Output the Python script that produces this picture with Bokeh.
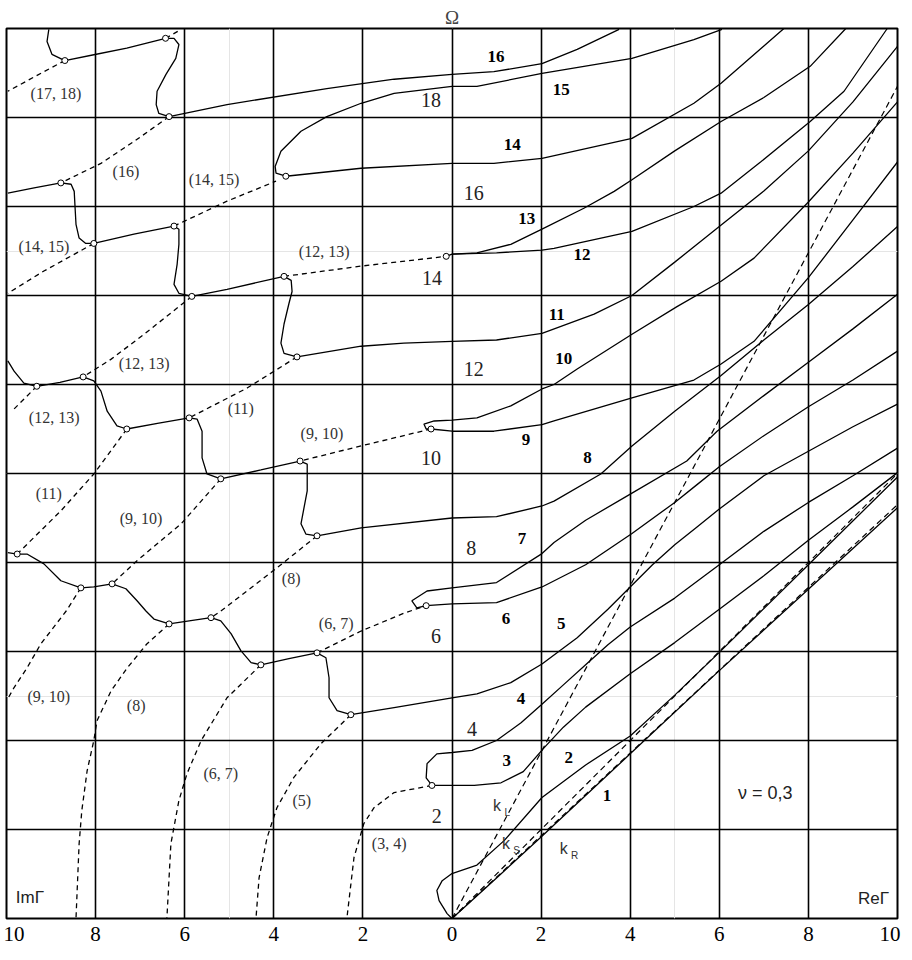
from bokeh.plotting import figure
from bokeh.models import Range1d, Grid, FixedTicker, LinearAxis
from bokeh.core.properties import value
from bokeh.embed import file_html
from bokeh.resources import INLINE

# ---------------- axis / grid data ----------------
grid_x = [-10, -8, -6, -4, -2, 0, 2, 4, 6, 8, 10]
grid_y = [0, 2, 4, 6, 8, 10, 12, 14, 16, 18, 20]
tick_labels = ["10", "8", "6", "4", "2", "0", "2", "4", "6", "8", "10"]

# ---------------- reference lines (dashed, from origin) ----------------
k_L = [(0, 0), (10, 18.7)]
k_S = [(0, 0), (10, 10.0)]
k_R = [(0, 0), (10, 9.3)]

# ---------------- real branches (right half) ----------------
branch_1 = [(0, 0), (1, 0.91), (2, 1.83), (4, 3.70), (6, 5.57), (8, 7.40), (10, 9.23)]
branch_2 = [(0, 0), (-0.11, 0.11), (-0.29, 0.40), (-0.34, 0.63), (-0.22, 0.85), (0, 1.01),
            (0.56, 1.2), (1.17, 1.75), (2.02, 2.72), (3.0, 3.45), (4.0, 4.1), (5, 5.02),
            (6, 5.98), (8, 7.95), (10, 9.92)]
branch_3_4 = [(10, 10.57), (9, 9.95), (8, 9.35), (7, 8.7), (6, 7.95), (5, 7.2), (4, 6.55),
              (3.5, 6.15), (3, 5.7), (2.5, 5.25), (2, 4.8), (1.55, 4.4), (1, 4.0), (0.45, 3.78),
              (0, 3.73), (-0.34, 3.70), (-0.56, 3.48), (-0.58, 3.16), (-0.45, 2.99), (0, 2.99),
              (0.5, 2.99), (1.1, 3.05), (1.6, 3.3), (2.07, 3.84), (2.5, 4.3), (3, 4.75),
              (4, 5.5), (5, 6.2), (6, 6.95), (7, 7.7), (8, 8.5), (9, 9.25), (10, 10.02)]
branch_6_7 = [(10, 14.03), (9, 13.25), (8, 12.5), (7, 11.75), (5.95, 10.95), (5.27, 10.28),
              (4.04, 9.56), (3, 8.95), (2.29, 8.45), (2.02, 8.2), (1, 7.55), (0, 7.43),
              (-0.56, 7.36), (-0.90, 7.14), (-0.79, 6.98), (-0.58, 7.03), (0, 7.07), (1, 7.1),
              (2.02, 7.45), (3, 7.95), (4.04, 8.65), (5, 9.35), (5.5, 9.75), (6, 10.15),
              (7, 10.85), (8, 11.5), (9, 12.1), (10, 12.75)]
branch_9_10 = [(10, 18.35), (9, 17.2), (8, 16.1), (6.78, 14.84), (6.04, 14.32), (5.05, 13.75),
               (4.04, 13.13), (2.81, 12.35), (2.29, 12.0), (2.02, 11.9), (1.32, 11.52),
               (0.56, 11.25), (0, 11.20), (-0.40, 11.18), (-0.63, 11.11), (-0.58, 11.0),
               (-0.47, 11.0), (0, 10.95), (0.94, 10.95), (2.02, 11.1), (2.29, 11.18),
               (4.04, 11.7), (5.43, 12.1), (6.04, 12.46), (6.78, 12.97), (8, 14.4), (9, 15.7),
               (10, 17.0)]
branch_12 = [(-0.13, 14.88), (0, 14.93), (1, 14.96), (2.02, 15.02), (2.29, 15.06), (4.04, 15.44),
             (5.43, 16.0), (6.04, 16.3), (6.94, 17.01), (8.04, 17.91), (8.8, 18.59), (9.77, 20)]
branch_13 = [(0, 14.93), (0.56, 14.96), (1.32, 15.15), (2.02, 15.49), (2.96, 15.96),
             (3.64, 16.34), (4.04, 16.6), (5, 17.25), (6.04, 17.91), (7, 18.45), (8.04, 19.15),
             (8.84, 20)]

# ---------------- complex branches (left half, solid) continuing to the right ----------------
chain_16 = [(-9.05, 19.98), (-9.09, 19.71), (-8.98, 19.42), (-8.69, 19.28), (-8.04, 19.41),
            (-7.30, 19.56), (-6.43, 19.78), (-6.24, 19.78), (-6.13, 19.64), (-6.20, 19.33),
            (-6.42, 18.97), (-6.62, 18.59), (-6.64, 18.29), (-6.58, 18.09), (-6.35, 18.02),
            (-5.05, 18.29), (-2.81, 18.65), (-1.30, 18.86), (0, 18.97), (0.94, 19.03),
            (2.02, 19.21), (2.81, 19.53), (3.75, 19.98)]
chain_14_15 = [(6.06, 19.98), (5.43, 19.75), (4.04, 19.33), (2.02, 18.99), (0.56, 18.70),
               (0, 18.70), (-1.30, 18.54), (-2.04, 18.32), (-2.81, 18.02), (-3.39, 17.69),
               (-3.84, 17.24), (-3.97, 16.90), (-3.95, 16.75), (-3.73, 16.68), (-2.04, 16.86),
               (0, 16.97), (0.94, 16.97), (2.02, 17.08), (4.04, 17.53), (5.43, 18.32),
               (6.04, 18.77), (7.45, 20)]
chain_11 = [(-9.97, 16.30), (-9.38, 16.42), (-8.78, 16.53), (-8.55, 16.50), (-8.48, 16.34),
            (-8.46, 15.96), (-8.44, 15.60), (-8.37, 15.29), (-8.22, 15.17), (-8.04, 15.17),
            (-7.14, 15.38), (-6.24, 15.56), (-6.13, 15.49), (-6.13, 15.15), (-6.17, 14.70),
            (-6.24, 14.25), (-6.13, 14.05), (-5.84, 13.98), (-5.05, 14.14), (-3.77, 14.43),
            (-3.61, 14.34), (-3.59, 14.09), (-3.66, 13.82), (-3.77, 13.36), (-3.84, 12.93),
            (-3.77, 12.70), (-3.48, 12.62), (-2.04, 12.86), (-1.08, 12.93), (0, 12.97),
            (1, 13.0), (2.02, 13.15), (3.19, 13.58), (4.04, 14.0), (5, 14.75), (6, 15.55),
            (7, 16.35), (8, 17.25), (9, 18.35), (10, 19.6)]
chain_8 = [(-9.97, 12.53), (-9.83, 12.30), (-9.61, 12.03), (-9.32, 11.96), (-8.80, 12.05),
           (-8.28, 12.17), (-8.04, 12.08), (-7.88, 11.85), (-7.74, 11.40), (-7.52, 11.07),
           (-7.30, 11.00), (-6.58, 11.13), (-5.90, 11.25), (-5.72, 11.22), (-5.61, 10.95),
           (-5.61, 10.35), (-5.50, 9.99), (-5.19, 9.88), (-4.29, 10.08), (-3.41, 10.28),
           (-3.25, 10.21), (-3.25, 9.61), (-3.39, 8.87), (-3.28, 8.64), (-3.03, 8.60),
           (-2.04, 8.78), (0, 9.00), (1, 9.03), (2.02, 9.27), (2.29, 9.38), (3.34, 9.99),
           (4.04, 10.62), (5, 11.4), (6.04, 12.2), (7, 13.0), (8, 13.8), (9, 14.65), (10, 15.55)]
chain_5 = [(-9.97, 8.22), (-9.76, 8.19), (-9.54, 8.19), (-9.16, 7.97), (-8.78, 7.59),
           (-8.33, 7.43), (-8.04, 7.45), (-7.63, 7.52), (-7.32, 7.41), (-7.07, 7.14),
           (-6.87, 6.91), (-6.69, 6.73), (-6.35, 6.62), (-5.90, 6.69), (-5.41, 6.76),
           (-5.19, 6.69), (-4.96, 6.40), (-4.74, 6.02), (-4.51, 5.75), (-4.29, 5.70),
           (-3.66, 5.84), (-3.03, 5.97), (-2.83, 5.86), (-2.76, 5.41), (-2.76, 4.96),
           (-2.58, 4.67), (-2.27, 4.58), (-1.30, 4.74), (0, 4.96), (0.56, 5.05), (1.32, 5.3),
           (2.02, 5.72), (2.81, 6.31), (3.5, 6.95), (4, 7.45), (4.5, 7.95), (5, 8.4),
           (5.5, 8.8), (6, 9.2), (7, 9.95), (8, 10.5), (9, 11.05), (10, 11.56)]

# ---------------- imaginary branches (left half, dashed) ----------------
imag_17_18a = [(-6.43, 19.78), (-6.08, 19.98)]
imag_17_18b = [(-8.69, 19.28), (-9.16, 19.03), (-9.97, 18.59)]
imag_16 = [(-6.35, 18.02), (-7.14, 17.46), (-7.88, 16.97), (-8.78, 16.53)]
imag_14_15a = [(-6.24, 15.56), (-5.05, 16.12), (-3.95, 16.57)]
imag_14_15b = [(-8.04, 15.17), (-9.16, 14.55), (-9.97, 14.05)]
imag_12_13a = [(-3.77, 14.43), (-2.04, 14.66), (-0.13, 14.88)]
imag_12_13b = [(-5.84, 13.98), (-6.91, 13.13), (-7.65, 12.57), (-8.28, 12.17)]
imag_12_13c = [(-9.32, 11.96), (-9.88, 11.40)]
imag_11a = [(-3.48, 12.62), (-4.60, 11.92), (-5.90, 11.25)]
imag_11b = [(-7.30, 11.00), (-8.04, 9.99), (-8.78, 9.16), (-9.76, 8.19)]
imag_9_10a = [(-0.47, 11.0), (-2.04, 10.62), (-3.41, 10.28)]
imag_9_10b = [(-5.19, 9.88), (-6.08, 8.87), (-7.07, 8.04), (-7.63, 7.52)]
imag_9_10c = [(-8.33, 7.43), (-8.66, 6.91), (-9.23, 6.17), (-9.54, 5.63), (-9.83, 5.19), (-9.97, 4.94)]
imag_8a = [(-3.03, 8.60), (-3.93, 7.88), (-4.60, 7.36), (-5.19, 6.91), (-5.41, 6.76)]
imag_8b = [(-6.35, 6.62), (-6.85, 6.17), (-7.29, 5.63), (-7.65, 5.12), (-7.97, 4.44), (-8.04, 4.0),
           (-8.19, 3.32), (-8.31, 2.42), (-8.37, 1.68), (-8.44, 0)]
imag_6_7a = [(-3.03, 5.97), (-2.04, 6.46), (-1.08, 6.86), (-0.58, 7.03)]
imag_6_7b = [(-4.29, 5.70), (-5.05, 4.96), (-5.63, 4.0), (-5.95, 3.25), (-6.13, 2.65), (-6.31, 1.68), (-6.40, 0)]
imag_5 = [(-2.27, 4.58), (-2.94, 3.93), (-3.55, 3.17), (-3.93, 2.49), (-4.15, 1.82), (-4.33, 0.92), (-4.40, 0)]
imag_3_4 = [(-0.45, 2.99), (-1.30, 2.83), (-1.75, 2.49), (-1.98, 2.13), (-2.20, 1.37), (-2.36, 0)]

# ---------------- junction points (small circles) ----------------
junction_x = [-8.69, -6.43, -6.35, -8.78, -8.04, -6.24, -5.84, -3.77, -3.48, -3.73,
              -9.32, -8.28, -7.30, -5.90, -5.19, -3.41, -3.03, -0.47, -0.13,
              -9.76, -8.33, -7.63, -6.35, -5.41, -4.29, -3.03, -2.27, -0.58, -0.45]
junction_y = [19.28, 19.78, 18.02, 16.53, 15.17, 15.56, 13.98, 14.43, 12.62, 16.68,
              11.96, 12.17, 11.00, 11.25, 9.88, 10.28, 8.60, 11.0, 14.88,
              8.19, 7.43, 7.52, 6.62, 6.76, 5.70, 5.97, 4.58, 7.03, 2.99]

# ---------------- text labels ----------------
branch_numbers = ["1", "2", "3", "4", "5", "6", "7", "8", "9", "10", "11", "12", "13", "14", "15", "16"]
branch_num_x = [3.48, 2.62, 1.23, 1.55, 2.45, 1.21, 1.57, 3.04, 1.66, 2.51, 2.35, 2.92, 1.68, 1.35, 2.45, 0.99]
branch_num_y = [2.76, 3.61, 3.55, 4.94, 6.62, 6.74, 8.55, 10.35, 10.77, 12.59, 13.58, 14.93, 15.74, 17.40, 18.63, 19.37]

order_numbers = ["2", "4", "6", "8", "10", "12", "14", "16", "18"]
order_x = [-0.34, 0.45, -0.36, 0.43, -0.47, 0.49, -0.45, 0.49, -0.47]
order_y = [2.31, 4.26, 6.35, 8.32, 10.35, 12.35, 14.39, 16.3, 18.40]

pair_labels = ["(17, 18)", "(16)", "(14, 15)", "(14, 15)", "(12, 13)", "(12, 13)", "(12, 13)",
               "(11)", "(11)", "(9, 10)", "(9, 10)", "(8)", "(6, 7)", "(9, 10)", "(8)", "(6, 7)",
               "(5)", "(3, 4)"]
pair_x = [-8.89, -7.32, -5.34, -9.16, -2.87, -6.91, -8.93, -4.74, -9.05, -2.92, -6.98, -3.61,
          -2.60, -9.05, -7.09, -5.19, -3.37, -1.41]
pair_y = [18.54, 16.79, 16.61, 15.11, 14.99, 12.48, 11.25, 11.47, 9.56, 10.91, 8.98, 7.63,
          6.62, 4.99, 4.78, 3.25, 2.65, 1.68]

k_names = ["k", "k", "k"]
k_x = [1.01, 1.21, 2.51]
k_y = [2.54, 1.68, 1.57]
k_subs = ["L", "S", "R"]
k_sub_x = [1.24, 1.45, 2.75]
k_sub_y = [2.38, 1.53, 1.41]

# ---------------- figure ----------------
SERIF = "Liberation Serif"
SANS = "Liberation Sans"

p = figure(width=904, height=944, x_range=Range1d(-10, 10), y_range=Range1d(0, 20),
           output_backend="svg", toolbar_location=None,
           x_axis_location=None, y_axis_location=None,
           min_border_left=6, min_border_right=7, min_border_top=28, min_border_bottom=26)
p.outline_line_color = "black"
p.outline_line_width = 2
p.background_fill_color = "white"
p.border_fill_color = "white"

p.title.text = "Ω"
p.title.align = "center"
p.title.text_font = SERIF
p.title.text_font_size = "19px"
p.title.text_font_style = "normal"
p.title.standoff = 1

p.add_layout(Grid(dimension=0, ticker=FixedTicker(ticks=grid_x), grid_line_color="black",
                  grid_line_width=1.6))
p.add_layout(Grid(dimension=1, ticker=FixedTicker(ticks=grid_y), grid_line_color="black",
                  grid_line_width=1.6))

# bottom tick labels (end labels nudged inside the canvas)
n = len(grid_x)
nudge = 7.5 / 44.5
axis_ticks = [gx + (nudge if i == 0 else (-nudge if i == n - 1 else 0)) for i, gx in enumerate(grid_x)]
xaxis = LinearAxis(ticker=FixedTicker(ticks=axis_ticks),
                   major_label_overrides={t: lab for t, lab in zip(axis_ticks, tick_labels)},
                   axis_line_color=None, major_tick_line_color=None, minor_tick_line_color=None,
                   major_label_text_font=SERIF, major_label_text_font_size="21px",
                   major_label_standoff=2, major_label_text_color="black")
p.add_layout(xaxis, "below")


def xs(pts):
    return [q[0] for q in pts]


def ys(pts):
    return [q[1] for q in pts]


LW = 1.3
for ref in (k_L, k_S, k_R):
    p.line(xs(ref), ys(ref), line_color="black", line_width=1.2, line_dash="6 4")

for curve in (branch_1, branch_2, branch_3_4, branch_6_7, branch_9_10, branch_12, branch_13,
              chain_16, chain_14_15, chain_11, chain_8, chain_5):
    p.line(xs(curve), ys(curve), line_color="black", line_width=LW)

for curve in (imag_17_18a, imag_17_18b, imag_16, imag_14_15a, imag_14_15b, imag_12_13a,
              imag_12_13b, imag_12_13c, imag_11a, imag_11b, imag_9_10a, imag_9_10b, imag_9_10c,
              imag_8a, imag_8b, imag_6_7a, imag_6_7b, imag_5, imag_3_4):
    p.line(xs(curve), ys(curve), line_color="black", line_width=1.3, line_dash="5 4")

p.scatter(junction_x, junction_y, marker="circle", size=6, fill_color="white",
          line_color="black", line_width=1)

p.text(branch_num_x, branch_num_y, text=branch_numbers, text_font=value(SERIF),
       text_font_style="bold", text_font_size="17px", text_align="center",
       text_baseline="middle", text_color="black")
p.text(order_x, order_y, text=order_numbers, text_font=value(SERIF),
       text_font_size="20px", text_align="center", text_baseline="middle", text_color="#222222")
p.text(pair_x, pair_y, text=pair_labels, text_font=value(SERIF),
       text_font_size="16px", text_align="center", text_baseline="middle", text_color="#333333")
p.text(k_x, k_y, text=k_names, text_font=value(SANS), text_font_size="16px",
       text_align="center", text_baseline="middle", text_color="#333333")
p.text(k_sub_x, k_sub_y, text=k_subs, text_font=value(SANS), text_font_size="10px",
       text_align="center", text_baseline="middle", text_color="#333333")
p.text([-9.79], [0.47], text=["ImΓ"], text_font=value(SANS), text_font_size="17px",
       text_align="left", text_baseline="middle", text_color="#222222")
p.text([9.81], [0.45], text=["ReΓ"], text_font=value(SANS), text_font_size="17px",
       text_align="right", text_baseline="middle", text_color="#222222")
p.text([7.03], [2.81], text=["ν = 0,3"], text_font=value(SANS), text_font_size="18px",
       text_align="center", text_baseline="middle", text_color="#222222")

open("out.html", "w").write(file_html(p, INLINE))
